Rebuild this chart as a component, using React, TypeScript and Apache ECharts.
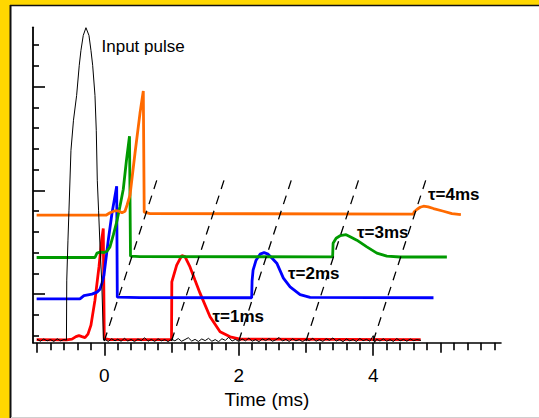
import React, { useEffect, useRef } from "react";
import * as echarts from "echarts";

const FONT = '"Liberation Sans", Arial, sans-serif';

const X_MIN = -1.06;
const X_MAX = 5.9;
const Y_MIN = -2.34;
const Y_MAX = 12.86;

const xLabelValues = [0, 2, 4];
const xMajorTicks = [-1, 1, 3, 5];
const xMinorTicks = [-0.8, -0.6, -0.4, -0.2, 0.2, 0.4, 0.6, 0.8, 1.2, 1.4, 1.6, 1.8, 2.2, 2.4, 2.6, 2.8, 3.2, 3.4, 3.6, 3.8, 4.2, 4.4, 4.6, 4.8, 5.2, 5.4, 5.6, 5.8];
const yMajorTicks = [0, 5, 10];
const yMinorTicks = [-2, -1, 1, 2, 3, 4, 6, 7, 8, 9, 11, 12];

const inputPre = [[-1.0, -2.17], [-0.95, -2.27], [-0.9, -2.16], [-0.85, -2.25], [-0.8, -2.19], [-0.75, -2.28], [-0.7, -2.15], [-0.65, -2.25], [-0.6, -2.19]];
const inputPulse = [
  [-0.5625, -2.215], [-0.558, 0.674], [-0.54, 2.6], [-0.525, 4.044], [-0.4955, 6.933], [-0.458, 8.38], [-0.411, 9.58],
  [-0.372, 11.03], [-0.347, 11.748], [-0.3125, 12.47], [-0.2723, 12.84], [-0.2277, 12.47], [-0.198, 11.748], [-0.1726, 11.03],
  [-0.1384, 9.58], [-0.119, 7.896], [-0.104, 5.489], [-0.0848, 4.044], [-0.061, 2.118], [-0.0387, 0.674], [-0.0119, -2.215],
];
const inputPost = [
  [0.02, -2.2], [0.06, -2.28], [0.11, -2.15], [0.16, -2.25], [0.2, -2.17], [0.25, -2.27], [0.3, -2.13], [0.35, -2.26], [0.4, -2.18],
  [0.45, -2.29], [0.5, -2.16], [0.55, -2.24], [0.6, -2.1], [0.65, -2.27], [0.7, -2.18], [0.75, -2.28], [0.8, -2.15], [0.85, -2.25],
  [0.9, -2.19], [0.95, -2.29], [1.0, -2.17], [1.05, -2.25], [1.1, -2.14], [1.15, -2.27], [1.2, -2.19], [1.25, -2.1], [1.3, -2.26],
  [1.35, -2.18], [1.4, -2.28], [1.45, -2.16], [1.5, -2.24], [1.55, -2.13], [1.6, -2.27], [1.65, -2.19], [1.7, -2.29], [1.75, -2.15],
  [1.8, -2.23], [1.85, -2.08], [1.9, -2.26], [1.95, -2.18], [2.0, -2.28], [2.05, -2.16], [2.1, -2.25], [2.15, -2.12], [2.2, -2.27],
  [2.25, -2.19], [2.3, -2.29], [2.35, -2.16], [2.4, -2.24], [2.45, -2.14], [2.5, -2.27], [2.55, -2.2], [2.6, -2.09], [2.65, -2.26],
  [2.7, -2.18], [2.75, -2.28], [2.8, -2.15], [2.85, -2.25], [2.9, -2.19], [2.95, -2.29], [3.0, -2.17], [3.05, -2.24], [3.1, -2.13],
  [3.15, -2.27], [3.2, -2.19], [3.25, -2.28], [3.3, -2.15], [3.35, -2.23], [3.4, -2.11], [3.45, -2.26], [3.5, -2.18], [3.55, -2.29],
  [3.6, -2.16], [3.65, -2.25], [3.7, -2.19], [3.75, -2.28], [3.8, -2.14], [3.85, -2.24], [3.9, -2.18], [3.95, -2.27], [4.0, -2.0],
  [4.02, -2.33], [4.05, -2.17], [4.1, -2.26], [4.15, -2.15], [4.2, -2.27], [4.25, -2.19], [4.3, -2.28], [4.35, -2.14], [4.4, -2.25],
  [4.45, -2.18], [4.5, -2.27], [4.55, -2.16], [4.6, -2.24], [4.65, -2.19], [4.71, -2.23],
];

const tau1 = [
  [-1.006, -2.19], [-0.5595, -2.205], [-0.4807, -2.167], [-0.421, -2.046], [-0.3765, -1.998], [-0.332, -2.046], [-0.287, -2.094],
  [-0.2426, -1.926], [-0.198, -1.4925], [-0.1384, -0.289], [-0.0789, 1.314], [-0.0387, 2.6], [-0.0149, 3.163], [0.0, -2.143],
  [0.085, -2.19], [1.0, -2.19], [1.0045, 0.592], [1.077, 1.396], [1.152, 1.854], [1.2, 1.805], [1.275, 1.314], [1.35, 0.674],
  [1.424, 0.048], [1.573, -1.093], [1.722, -1.815], [1.872, -2.056], [2.02, -2.167], [4.705, -2.19],
];

const tau2 = [
  [-1.006, -0.231], [-0.3616, -0.231], [-0.302, -0.072], [-0.183, 0.0], [-0.1086, 0.096], [-0.064, 0.241], [-0.0342, 0.53],
  [-0.0045, 0.915], [0.0595, 2.6], [0.1146, 3.9], [0.1845, 5.2], [0.1935, -0.144], [0.531, -0.1685], [2.192, -0.173],
  [2.198, 0.626], [2.213, 1.156], [2.2574, 1.637], [2.317, 1.926], [2.3765, 1.998], [2.436, 1.926], [2.4955, 1.733],
  [2.5655, 1.4925], [2.6637, 0.77], [2.7634, 0.351], [2.9122, -0.024], [3.061, -0.159], [4.896, -0.173],
];

const tau3 = [
  [-1.006, 1.767], [-0.1384, 1.767], [-0.1086, 1.974], [-0.064, 2.022], [-0.0045, 2.008], [0.0402, 2.07], [0.0848, 2.277],
  [0.1339, 2.841], [0.1845, 3.467], [0.2336, 4.237], [0.2827, 5.055], [0.33, 6.452], [0.375, 7.607], [0.39, 1.83],
  [0.531, 1.805], [3.396, 1.8], [3.403, 2.455], [3.4479, 2.696], [3.507, 2.8166], [3.5967, 2.8647], [3.671, 2.744],
  [3.756, 2.6], [3.905, 2.277], [4.054, 1.974], [4.2024, 1.8296], [4.4, 1.791], [5.095, 1.791],
];

const tau4 = [
  [-1.006, 3.804], [0.0253, 3.804], [0.0848, 3.924], [0.159, 4.02], [0.219, 3.996], [0.263, 3.924], [0.308, 3.996],
  [0.338, 4.285], [0.3824, 4.766], [0.4568, 6.789], [0.531, 8.714], [0.5804, 9.788], [0.594, 3.948], [0.68, 3.885],
  [4.598, 3.861], [4.609, 3.972], [4.6533, 4.092], [4.698, 4.189], [4.747, 4.237], [4.817, 4.203], [4.896, 4.126],
  [5.045, 3.996], [5.17, 3.885], [5.3035, 3.837],
];

const guideLines = [
  [[0, -2.26], [0.81, 5.78]],
  [[1, -2.26], [1.81, 5.78]],
  [[2, -2.26], [2.81, 5.78]],
  [[3, -2.26], [3.81, 5.78]],
  [[4, -2.26], [4.81, 5.78]],
];

const annotations = [
  { text: "Input pulse", x: 101.5, y: 46, bold: false, size: 17 },
  { text: "τ=1ms", x: 212.5, y: 316, bold: true, size: 17 },
  { text: "τ=2ms", x: 288, y: 273.5, bold: true, size: 17 },
  { text: "τ=3ms", x: 357, y: 232, bold: true, size: 17 },
  { text: "τ=4ms", x: 428, y: 194.5, bold: true, size: 17 },
];

const BLACK = "#000";

function xAxisBase(extra: any) {
  return {
    type: "value",
    position: "bottom",
    min: X_MIN,
    max: X_MAX,
    splitLine: { show: false },
    ...extra,
  };
}
function yAxisBase(extra: any) {
  return {
    type: "value",
    position: "left",
    min: Y_MIN,
    max: Y_MAX,
    splitLine: { show: false },
    ...extra,
  };
}

export default function App() {
  const ref = useRef<HTMLDivElement>(null);
  useEffect(() => {
    if (!ref.current) return;
    const chart = echarts.init(ref.current, null, { renderer: "svg" });
    const lineSeries = (data: number[][], color: string, width: number, z: number) => ({
      type: "line",
      data,
      symbol: "none",
      showSymbol: false,
      lineStyle: { color, width },
      z,
      silent: true,
    });
    const option: any = {
      animation: false,
      backgroundColor: "#FFD700",
      textStyle: { fontFamily: FONT },
      grid: { left: 33, right: 38, top: 27.3, bottom: 75.3, containLabel: false, outerBoundsMode: "none" },
      graphic: [
        { type: "rect", z: -10, shape: { x: 10, y: 5, width: 540, height: 412 }, style: { fill: "#fff" } },
        { type: "line", z: -9, shape: { x1: 10, y1: 5.5, x2: 539, y2: 5.5 }, style: { stroke: "#111", lineWidth: 1.5 } },
        { type: "line", z: -9, shape: { x1: 10.5, y1: 5, x2: 10.5, y2: 418 }, style: { stroke: "#111", lineWidth: 2 } },
        { type: "line", z: -9, shape: { x1: 11, y1: 417.5, x2: 539, y2: 417.5 }, style: { stroke: "#cfcfcf", lineWidth: 1 } },
        ...annotations.map((a) => ({
          type: "text",
          z: 100,
          x: a.x,
          y: a.y,
          style: {
            text: a.text,
            fill: "#000",
            font: `${a.bold ? "bold " : ""}${a.size}px ${FONT}`,
            align: "left",
            verticalAlign: "middle",
          },
        })),
      ],
      xAxis: [
        xAxisBase({
          axisLine: { show: true, onZero: false, lineStyle: { color: BLACK, width: 1.6 } },
          axisTick: { show: true, customValues: xLabelValues, length: 13, lineStyle: { color: BLACK, width: 1.6 } },
          axisLabel: { show: true, customValues: xLabelValues, fontSize: 19, color: BLACK, margin: 23, fontFamily: FONT },
          name: "Time (ms)",
          nameLocation: "middle",
          nameGap: 44,
          nameTextStyle: { fontSize: 19, color: BLACK, fontFamily: FONT },
        }),
        xAxisBase({
          axisLine: { show: false, onZero: false },
          axisTick: { show: true, customValues: xMajorTicks, length: 10, lineStyle: { color: BLACK, width: 1.6 } },
          axisLabel: { show: false },
        }),
        xAxisBase({
          axisLine: { show: false, onZero: false },
          axisTick: { show: true, customValues: xMinorTicks, length: 7.5, lineStyle: { color: BLACK, width: 1.6 } },
          axisLabel: { show: false },
        }),
      ],
      yAxis: [
        yAxisBase({
          axisLine: { show: true, onZero: false, lineStyle: { color: BLACK, width: 1.8 } },
          axisTick: { show: true, inside: true, customValues: yMajorTicks, length: 12, lineStyle: { color: BLACK, width: 1.6 } },
          axisLabel: { show: false },
        }),
        yAxisBase({
          axisLine: { show: false, onZero: false },
          axisTick: { show: true, inside: true, customValues: yMinorTicks, length: 6, lineStyle: { color: BLACK, width: 1.6 } },
          axisLabel: { show: false },
        }),
      ],
      series: [
        lineSeries(tau1, "#FF0000", 2.8, 3),
        lineSeries(tau2, "#0000FF", 2.8, 4),
        lineSeries(tau3, "#009A00", 2.8, 5),
        lineSeries(tau4, "#FF6A00", 2.8, 6),
        lineSeries([...inputPre, ...inputPulse, ...inputPost], "#000000", 1, 7),
        ...guideLines.map((g) => ({
          type: "line",
          data: g,
          symbol: "none",
          showSymbol: false,
          lineStyle: { color: BLACK, width: 1.3, type: [9, 7] },
          z: 8,
          silent: true,
        })),
      ],
    };
    chart.setOption(option);
    return () => chart.dispose();
  }, []);
  return <div ref={ref} style={{ position: "fixed", left: 0, top: 0, width: 539, height: 418 }} />;
}
